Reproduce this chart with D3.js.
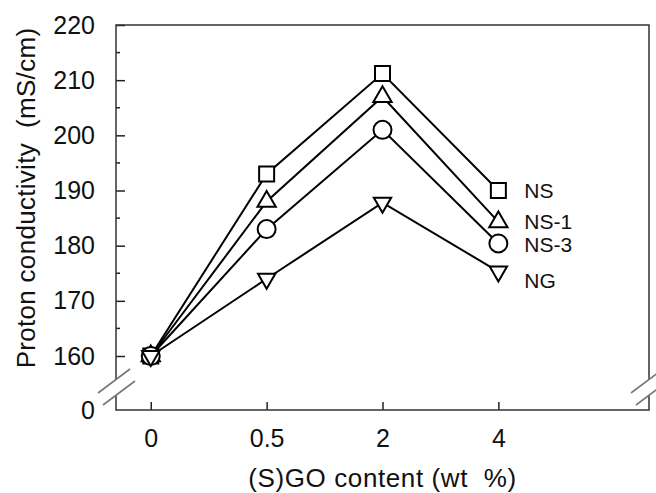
<!DOCTYPE html>
<html>
<head>
<meta charset="utf-8">
<script src="https://cdn.jsdelivr.net/npm/d3@7"></script>
<style>
  body { margin: 0; background: #fff; }
  svg text { font-family: "Liberation Sans", Arial, sans-serif; fill: #111; }
</style>
</head>
<body>
<div id="chart"></div>
<script>
// data
var categories = ["0", "0.5", "2", "4"];
var seriesNames = ["NS", "NS-1", "NS-3", "NG"];
var nsValues  = [160, 193, 211.2, 190];
var ns1Values = [160, 188, 207, 184.3];
var ns3Values = [160, 183, 201, 180.4];
var ngValues  = [160, 174, 187.8, 175.3];
var yMajorTicks = [0, 160, 170, 180, 190, 200, 210, 220];
var yMinorTicks = [165, 175, 185, 195, 205, 215];

var seriesValues = [nsValues, ns1Values, ns3Values, ngValues];

// styling
var symbols = [
  {type: d3.symbolSquare, size: 225, rotate: 0},
  {type: d3.symbolTriangle, size: 145, rotate: 0},
  {type: d3.symbolCircle, size: 254, rotate: 0},
  {type: d3.symbolTriangle, size: 130, rotate: 180}
];
var labelDy = [0, 0, 1, 9];

var total_width = 656, total_height = 493;
var margin = {top: 25, right: 7, bottom: 83, left: 116},
    width = total_width - margin.left - margin.right,
    height = total_height - margin.top - margin.bottom;

var svg = d3.select("#chart").append("svg")
    .attr("width", total_width)
    .attr("height", total_height)
  .append("g")
    .attr("transform", "translate(" + margin.left + "," + margin.top + ")");

// x: category index, left room of 0.3 step, right room up to 4.3
var x = d3.scaleLinear()
    .domain([-0.3, 4.3])
    .range([0, width]);

// y: broken axis, 0 at bottom, then 160..220
var y = d3.scaleLinear()
    .domain([0, 160, 220])
    .range([height, height - 54, 0]);

// Y axis (ticks inward)
var yAxis = svg.append("g")
    .attr("class", "y-axis")
    .call(d3.axisLeft(y).tickValues(yMajorTicks).tickSize(-9).tickPadding(21).tickFormat(d3.format("d")));
yAxis.select(".domain").remove();
yAxis.selectAll("text").style("font-size", "25px");
yAxis.selectAll("line").attr("stroke", "#222").attr("stroke-width", 1.5);
yAxis.selectAll(".tick").filter(function(d) { return d === 0; }).select("line").remove();

svg.append("g")
  .selectAll("line")
  .data(yMinorTicks)
  .enter()
  .append("line")
    .attr("x1", 0)
    .attr("x2", 4)
    .attr("y1", d => y(d))
    .attr("y2", d => y(d))
    .attr("stroke", "#222")
    .attr("stroke-width", 1.5);

// X axis (ticks inward)
var xAxis = svg.append("g")
    .attr("class", "x-axis")
    .attr("transform", "translate(0," + height + ")")
    .call(d3.axisBottom(x).tickValues(d3.range(categories.length)).tickSize(-8).tickPadding(19)
      .tickFormat(function(i) { return categories[i]; }));
xAxis.select(".domain").remove();
xAxis.selectAll("text").style("font-size", "25px");
xAxis.selectAll("line").attr("stroke", "#222").attr("stroke-width", 1.5);

// frame with breaks
var yb = height - 23;   // middle of the break
var gapTop = yb - 7, gapBot = yb + 8;
var frame = svg.append("g")
    .attr("fill", "none")
    .attr("stroke", "#333")
    .attr("stroke-width", 1.5);
frame.append("path")
    .attr("d", "M0," + gapTop + "V0H" + width + "V" + gapTop);
frame.append("path")
    .attr("d", "M0," + gapBot + "V" + height + "H" + width + "V" + gapBot);

[0, width].forEach(function(xs) {
  [[-2, gapTop + 1], [3, gapBot - 2]].forEach(function(o) {
    var cx = xs + o[0], cy = o[1];
    svg.append("line")
        .attr("x1", cx - 16).attr("y1", cy + 12)
        .attr("x2", cx + 16).attr("y2", cy - 12)
        .attr("stroke", "#777")
        .attr("stroke-width", 1.6);
  });
});

// lines
var line = d3.line()
    .x(function(d, i) { return x(i); })
    .y(function(d) { return y(d); });

svg.append("g")
  .selectAll("path")
  .data(seriesValues)
  .enter()
  .append("path")
    .attr("d", line)
    .attr("fill", "none")
    .attr("stroke", "#000")
    .attr("stroke-width", 2);

// markers
seriesValues.forEach(function(vals, s) {
  var sym = symbols[s];
  svg.append("g")
    .selectAll("path")
    .data(vals)
    .enter()
    .append("path")
      .attr("d", d3.symbol().type(sym.type).size(sym.size))
      .attr("transform", function(d, i) {
        return "translate(" + x(i) + "," + y(d) + ") rotate(" + sym.rotate + ")";
      })
      .attr("fill", "#fff")
      .attr("stroke", "#000")
      .attr("stroke-width", 2);
});

// series labels
var last = categories.length - 1;
svg.append("g")
  .selectAll("text")
  .data(seriesNames)
  .enter()
  .append("text")
    .attr("x", x(last) + 26)
    .attr("y", function(d, s) { return y(seriesValues[s][last]) + labelDy[s]; })
    .attr("dy", "0.35em")
    .style("font-size", "21px")
    .text(d => d);

// axis titles
svg.append("text")
    .attr("x", width / 2)
    .attr("y", 462)
    .attr("text-anchor", "middle")
    .style("font-size", "26px")
    .style("letter-spacing", "0.6px")
    .style("white-space", "pre")
    .text("(S)GO content (wt  %)");

svg.append("text")
    .attr("transform", "translate(" + (35 - margin.left) + "," + (198 - margin.top) + ") rotate(-90)")
    .attr("text-anchor", "middle")
    .style("font-size", "26px")
    .style("letter-spacing", "0.3px")
    .style("white-space", "pre")
    .text("Proton conductivity  (mS/cm)");
</script>
</body>
</html>
